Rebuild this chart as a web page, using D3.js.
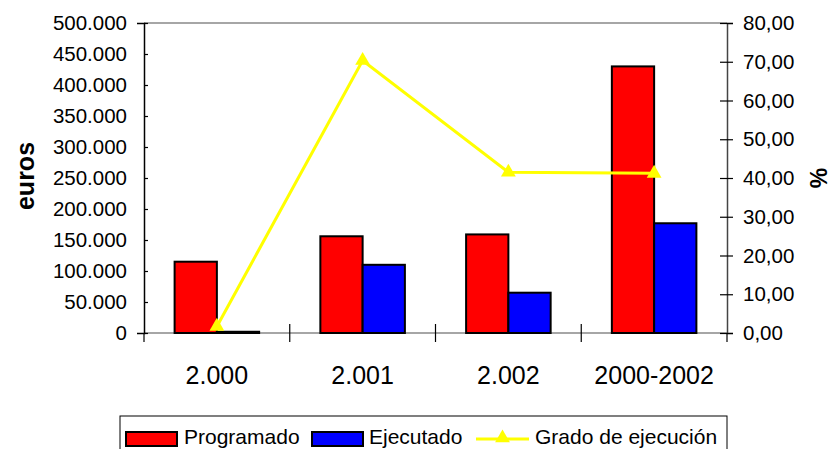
<!DOCTYPE html>
<html>
<head>
<meta charset="utf-8">
<script src="https://cdn.jsdelivr.net/npm/d3@7"></script>
<style>
	html, body { margin: 0; padding: 0; background: #fff; }
	svg { display: block; font-family: "Liberation Sans", Arial, sans-serif; }
</style>
</head>
<body>
<svg id="chart" width="832" height="449"></svg>
<script>
	// chart data
	const categories = ['2.000', '2.001', '2.002', '2000-2002'];
	const programado = [115000, 156000, 159000, 430000];
	const ejecutado = [2000, 110000, 65000, 177000];
	const grado = [1.7, 70.3, 41.5, 41.2];
	const leftTicks = [0, 50000, 100000, 150000, 200000, 250000, 300000, 350000, 400000, 450000, 500000];
	const rightTicks = [0, 10, 20, 30, 40, 50, 60, 70, 80];

	(function() {
	const svg = d3.select('#chart');
	const plotL = 144, plotR = 727, plotT = 23, plotB = 333;

	const x0 = d3.scaleBand().domain(categories).range([plotL, plotR]);
	const bw = x0.bandwidth();
	const x1 = d3.scaleBand().domain(['p', 'e']).range([bw * 0.21, bw * 0.79]);
	const yL = d3.scaleLinear().domain([0, 500000]).range([plotB, plotT]);
	const yR = d3.scaleLinear().domain([0, 80]).range([plotB, plotT]);

	const fmtL = d => d === 0 ? '0' : d3.format(',')(d).replace(/,/g, '.');
	const fmtR = d => d3.format('.2f')(d).replace('.', ',');

	// plot frame
	svg.append('line').attr('x1', plotL).attr('x2', plotR).attr('y1', plotT).attr('y2', plotT)
		.attr('stroke', '#888').attr('stroke-width', 1.5);
	svg.append('line').attr('x1', plotL).attr('x2', plotR).attr('y1', plotB).attr('y2', plotB)
		.attr('stroke', '#888').attr('stroke-width', 1.5);

	// bars
	const groups = svg.selectAll('.grp')
		.data(categories.map((c, i) => ({ c: c, p: programado[i], e: ejecutado[i] })))
		.enter().append('g')
		.attr('transform', d => 'translate(' + x0(d.c) + ',0)');

	groups.selectAll('rect')
		.data(d => [{ k: 'p', v: d.p }, { k: 'e', v: d.e }])
		.enter().append('rect')
		.attr('x', d => x1(d.k))
		.attr('width', x1.bandwidth())
		.attr('y', d => yL(d.v))
		.attr('height', d => plotB - yL(d.v))
		.attr('fill', d => d.k === 'p' ? '#ff0000' : '#0000ff')
		.attr('stroke', '#000')
		.attr('stroke-width', 2);

	// left axis
	const axL = svg.append('g').attr('transform', 'translate(' + plotL + ',0)')
		.call(d3.axisLeft(yL).tickValues(leftTicks).tickFormat(fmtL).tickSize(7).tickPadding(10));
	axL.select('.domain').attr('stroke', '#000').attr('stroke-width', 1.5);
	axL.selectAll('.tick line').attr('x2', 4).attr('stroke-width', 1.2);
	axL.selectAll('text').attr('font-size', 20.5).attr('fill', '#000')
		.attr('font-family', '"Liberation Sans", Arial, sans-serif');

	// right axis
	const axR = svg.append('g').attr('transform', 'translate(' + plotR + ',0)')
		.call(d3.axisRight(yR).tickValues(rightTicks).tickFormat(fmtR).tickSize(6).tickPadding(10));
	axR.select('.domain').attr('stroke', '#444').attr('stroke-width', 1.5);
	axR.selectAll('.tick line').attr('x1', -7).attr('stroke-width', 1.2);
	axR.selectAll('text').attr('font-size', 20.5).attr('fill', '#000')
		.attr('font-family', '"Liberation Sans", Arial, sans-serif');

	// category ticks and labels
	const bounds = categories.map(c => x0(c)).concat([plotR]);
	svg.selectAll('.ctick').data(bounds).enter().append('line')
		.attr('x1', d => d).attr('x2', d => d)
		.attr('y1', (d, i) => (i === 0 || i === bounds.length - 1) ? plotB : plotB - 9)
		.attr('y2', plotB + 9)
		.attr('stroke', '#000').attr('stroke-width', 1.2);
	svg.selectAll('.clab').data(categories).enter().append('text')
		.attr('x', d => x0(d) + bw / 2)
		.attr('y', 384)
		.attr('text-anchor', 'middle')
		.attr('font-size', 25)
		.text(d => d);

	// line series
	const lineData = categories.map((c, i) => ({ c: c, v: grado[i] }));
	svg.append('path')
		.datum(lineData)
		.attr('fill', 'none')
		.attr('stroke', '#ffff00')
		.attr('stroke-width', 3)
		.attr('d', d3.line().x(d => x0(d.c) + bw / 2).y(d => yR(d.v)));
	const tri = d3.symbol().type(d3.symbolTriangle).size(95);
	svg.selectAll('.mark').data(lineData).enter().append('path')
		.attr('transform', d => 'translate(' + (x0(d.c) + bw / 2) + ',' + yR(d.v) + ')')
		.attr('d', tri)
		.attr('fill', '#ffff00');

	// axis titles
	svg.append('text')
		.attr('transform', 'translate(34,176) rotate(-90)')
		.attr('text-anchor', 'middle')
		.attr('font-size', 25).attr('font-weight', 'bold')
		.text('euros');
	svg.append('text')
		.attr('transform', 'translate(827,178) rotate(-90)')
		.attr('text-anchor', 'middle')
		.attr('font-size', 23).attr('font-weight', 'bold')
		.text('%');

	// legend
	const lg = svg.append('g');
	lg.append('rect').attr('x', 120).attr('y', 416).attr('width', 607).attr('height', 44)
		.attr('fill', '#fff').attr('stroke', '#000').attr('stroke-width', 1);
	lg.append('rect').attr('x', 126).attr('y', 432).attr('width', 51).attr('height', 14)
		.attr('fill', '#ff0000').attr('stroke', '#000').attr('stroke-width', 2);
	lg.append('text').attr('x', 184).attr('y', 444).attr('font-size', 21).text('Programado');
	lg.append('rect').attr('x', 312).attr('y', 432).attr('width', 51).attr('height', 14)
		.attr('fill', '#0000ff').attr('stroke', '#000').attr('stroke-width', 2);
	lg.append('text').attr('x', 369).attr('y', 444).attr('font-size', 21).text('Ejecutado');
	lg.append('line').attr('x1', 476).attr('x2', 529).attr('y1', 439).attr('y2', 439)
		.attr('stroke', '#ffff00').attr('stroke-width', 3);
	lg.append('path').attr('transform', 'translate(502.5,438)').attr('d', tri).attr('fill', '#ffff00');
	lg.append('text').attr('x', 535).attr('y', 444).attr('font-size', 21).text('Grado de ejecución');
	})();
</script>
</body>
</html>
